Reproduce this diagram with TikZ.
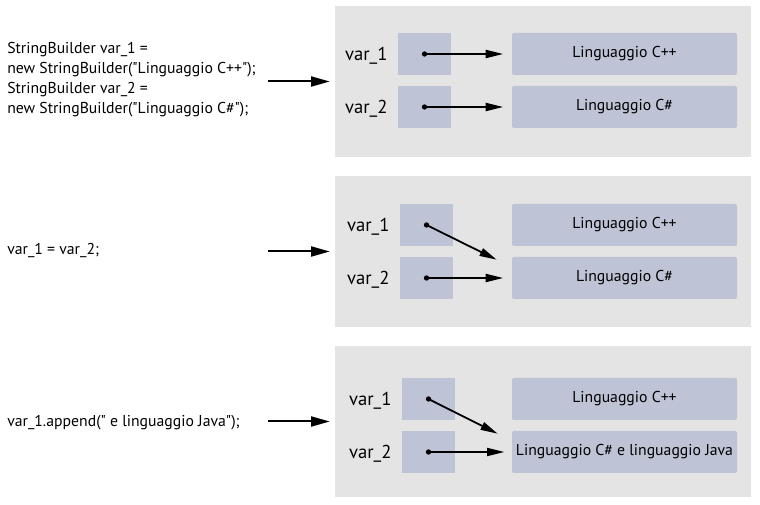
\documentclass[tikz,border=0pt]{standalone}
\usepackage{fontspec}
\setmainfont{PT Sans}
\usepackage{tikz}
\usetikzlibrary{
  arrows.meta,
  calc,
  positioning
}
\definecolor{panelgray}{RGB}{228,228,228}
\definecolor{cellblue}{RGB}{190,195,214}
\newcommand{\qq}{\textquotedbl}

\begin{document}
\begin{tikzpicture}[
  x=0.75pt, y=-0.75pt,
  font=\fontsize{11.8}{15}\selectfont,
  pane/.style={fill=panelgray, minimum width=312pt, minimum height=113.25pt,
               inner sep=0pt},
  ref/.style={fill=cellblue, minimum width=39.75pt, minimum height=31.5pt,
              inner sep=0pt},
  obj/.style={fill=cellblue, rounded corners=1.5pt, minimum width=168.75pt,
              minimum height=31.5pt, inner sep=0pt,
              font=\fontsize{11.8}{13}\selectfont},
  vname/.style={inner sep=0pt, yshift=-1pt, font=\fontsize{14}{16}\selectfont},
  dot/.style={circle, fill=black, inner sep=0pt, minimum size=4pt},
  code/.style={anchor=west, align=left, inner sep=0pt},
  ptr/.style={-{Triangle[length=13pt,width=6pt]}, line width=1.35pt},
  goarr/.style={-{Triangle[length=14pt,width=7.5pt]}, line width=1.5pt},
]
  \useasboundingbox (0,0) rectangle (760,505);

  % Step 1: two objects
  \node[code] (S1) at (7,80)
    {StringBuilder var\_1 =\\
     new StringBuilder(\qq Linguaggio C++\qq);\\
     StringBuilder var\_2 =\\
     new StringBuilder(\qq Linguaggio C\#\qq);};
  \node[pane] (P1) at (543,81.5) {};
  \node[ref] (R11) at (424.5,54) {};
  \node[ref] (R12) at (424.5,107) {};
  \node[vname, left=7.5pt of R11] {var\_1};
  \node[vname, left=7.5pt of R12] {var\_2};
  \node[obj] (O11) at (624.5,54) {Linguaggio C++};
  \node[obj] (O12) at (624.5,107) {Linguaggio C\#};
  \node[dot] (d11) at (R11.center) {};
  \node[dot] (d12) at (R12.center) {};
  \draw[ptr] (d11.center) -- ([xshift=-6.5pt]O11.west);
  \draw[ptr] (d12.center) -- ([xshift=-6.5pt]O12.west);
  \coordinate (a1) at (268,81.5);
  \draw[goarr] (a1) -- ([xshift=-3.75pt]P1.west);

  % Step 2: assignment
  \node[code] (S2) at (7,251) {var\_1 = var\_2;};
  \node[pane] (P2) at (543,251.5) {};
  \node[ref] (R21) at (426.5,225) {};
  \node[ref] (R22) at (426.5,278) {};
  \node[vname, left=7.5pt of R21] {var\_1};
  \node[vname, left=7.5pt of R22] {var\_2};
  \node[obj] (O21) at (624.5,225) {Linguaggio C++};
  \node[obj] (O22) at (624.5,278) {Linguaggio C\#};
  \node[dot] (d21) at (R21.center) {};
  \node[dot] (d22) at (R22.center) {};
  \draw[ptr] (d21.center) -- ($(O22.north west)+(-15,3)$);
  \draw[ptr] (d22.center) -- ([xshift=-6.5pt]O22.west);
  \coordinate (a2) at (268,251.5);
  \draw[goarr] (a2) -- ([xshift=-3.75pt]P2.west);

  % Step 3: append
  \node[code] (S3) at (7,423) {var\_1.append(\qq{} e linguaggio Java\qq);};
  \node[pane] (P3) at (543,421.5) {};
  \node[ref] (R31) at (428.5,399) {};
  \node[ref] (R32) at (428.5,452) {};
  \node[vname, left=7.5pt of R31] {var\_1};
  \node[vname, left=7.5pt of R32] {var\_2};
  \node[obj] (O31) at (624.5,399) {Linguaggio C++};
  \node[obj] (O32) at (624.5,452) {Linguaggio C\# e linguaggio Java};
  \node[dot] (d31) at (R31.center) {};
  \node[dot] (d32) at (R32.center) {};
  \draw[ptr] (d31.center) -- ($(O32.north west)+(-14,3)$);
  \draw[ptr] (d32.center) -- ([xshift=-5.5pt]O32.west);
  \coordinate (a3) at (268,421.5);
  \draw[goarr] (a3) -- ([xshift=-3.75pt]P3.west);
\end{tikzpicture}
\end{document}
